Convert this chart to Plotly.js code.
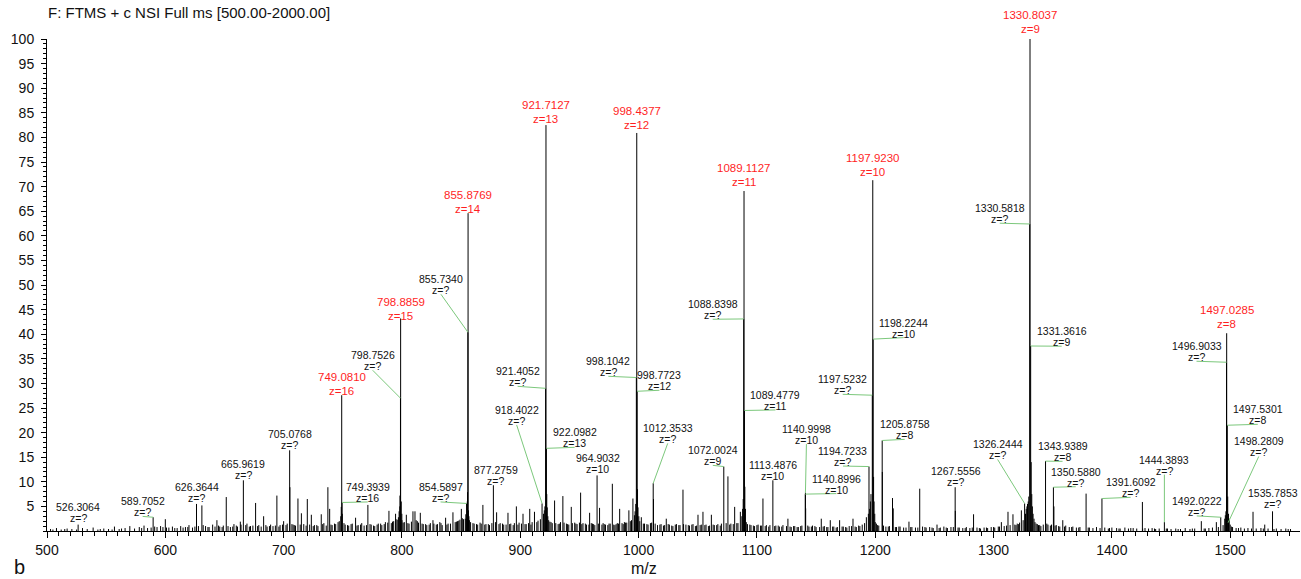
<!DOCTYPE html>
<html><head><meta charset="utf-8">
<script src="https://cdn.plot.ly/plotly-3.0.1.min.js"></script>
<style>html,body{margin:0;padding:0;background:#fff}#chart{width:1301px;height:579px}</style>
</head><body><div id="chart"></div>
<script>
// ---- labelled / prominent peaks (m/z, relative abundance %) ----
const peakMz = [526.3064,589.7052,626.3644,665.9619,705.0768,749.0810,749.3939,798.7526,798.8859,854.5897,855.7340,855.8769,877.2759,918.4022,921.4052,921.7127,922.0982,964.9032,998.1042,998.4377,998.7723,1012.3533,1072.0024,1088.8398,1089.1127,1089.4779,1113.4876,1140.8996,1140.9998,1194.7233,1197.5232,1197.9230,1198.2244,1205.8758,1267.5556,1326.2444,1330.5818,1330.8037,1331.3616,1343.9389,1350.5880,1391.6092,1444.3893,1492.0222,1496.9033,1497.0285,1497.5301,1498.2809,1535.7853];
const peakInt = [1.3,2.8,5.5,10.3,16.4,27.6,5.8,27.0,43.2,5.6,40.4,64.6,9.3,5.6,29.0,82.5,16.8,11.3,31.2,80.9,28.4,9.7,13.1,43.1,69.1,24.5,10.3,7.5,7.8,13.1,27.6,71.3,39.0,18.4,8.9,5.6,62.4,100,37.6,14.2,8.9,6.6,1.8,2.8,34.3,40.2,21.5,1.7,4.0];

// ---- other visible peaks ----
const minorMz = [600.0,630.9,643.6,651.5,663.4,676.3,683.1,694.3,700.0,705.3,712.1,715.0,720.0,723.4,731.8,737.4,738.9,748.7,760.8,771.2,789.0,794.6,798.3,803.7,809.3,811.0,815.5,826.2,836.9,843.1,850.2,855.4,868.4,880.0,889.6,896.7,902.3,908.0,912.0,929.0,936.0,943.1,951.0,958.6,967.0,977.8,984.0,991.8,995.2,1002.3,1012.6,1023.4,1037.5,1050.2,1054.4,1061.5,1075.5,1081.2,1086.0,1105.1,1126.2,1141.2,1154.4,1162.0,1169.9,1181.2,1192.5,1194.2,1206.0,1214.6,1215.2,1228.5,1237.6,1252.2,1267.7,1283.1,1306.6,1312.2,1316.4,1323.5,1351.0,1358.5,1378.2,1425.8,1475.6,1488.3,1519.3,1529.2,
  853.5,854.0,855.2,856.2,856.6,919.6,920.3,920.8,922.4,922.8,923.3,996.5,997.0,997.6,999.1,999.5,1000.2,1087.3,1087.9,1088.4,1089.8,1090.3,1195.3,1195.9,1196.4,1198.6,1199.0,1199.6,1327.0,1327.6,1328.2,1328.7,1329.3,1329.8,1331.8,1332.3,1332.8,1333.4,1334.2,1495.4,1495.9,1496.4,1497.9,1498.6,1499.2,748.3,749.6,797.6,798.2,799.4,799.9];
const minorInt = [2.4,5.2,2.2,6.9,1.9,5.7,3.0,7.2,2.0,8.9,6.6,3.6,6.5,3.3,3.4,8.9,4.5,4.9,2.7,5.3,4.1,3.5,7.2,3.3,4.0,4.0,3.7,2.2,2.7,3.8,4.5,7.9,5.3,3.8,3.7,5.0,3.5,4.5,3.9,6.2,7.1,4.9,7.8,3.7,4.7,9.6,4.5,4.2,6.6,2.8,6.5,2.5,8.4,3.3,3.9,3.3,11.1,4.9,3.9,6.6,2.5,4.6,2.5,2.2,2.2,2.5,2.8,3.5,12.0,6.7,4.6,1.9,8.6,1.3,4.1,3.4,1.8,3.9,3.4,4.2,5.0,2.2,7.6,5.9,2.0,1.8,3.9,1.3,
  2.5,3.4,6.0,4.2,3.0,3.5,4.2,5.0,7.5,4.8,3.0,3.2,4.0,5.5,8.5,4.8,3.0,3.0,4.5,6.5,9.0,4.5,4.5,6.0,7.5,11.0,6.0,3.5,3.5,4.5,5.0,5.5,6.0,7.0,14.0,7.5,5.0,3.5,2.5,2.5,3.2,4.0,7.0,3.5,2.5,3.0,3.5,4.0,5.0,6.0,3.5];

// ---- baseline noise ----
const noiseMz = [503,508,512,517,521,530,534,539,543,548,552,557,561,566,570,574,578,582,585,593,596,603,606,610,613,617,620,623,634,637,640,646,649,655,658,661,669,672,679,686,689,691,697,703,708,710,717,726,729,734,741,744,746,752,755,758,763,766,768,774,777,780,783,786,792,796,801,806,813,818,821,824,829,832,834,839,846,848,852,858,861,864,866,871,874,883,886,892,894,899,905,910,915,925,927,932,934,939,941,946,948,953,956,961,963,970,972,975,980,982,987,989,993,1005,1008,1010,1016,1019,1021,1026,1029,1032,1035,1040,1043,1046,1048,1052,1057,1059,1064,1067,1069,1078,1083,1092,1095,1098,1101,1103,1108,1110,1116,1119,1122,1129,1132,1135,1138,1144,1147,1150,1157,1159,1165,1167,1173,1176,1178,1184,1187,1189,1201,1203,1209,1212,1218,1221,1224,1231,1234,1240,1243,1246,1249,1255,1258,1261,1264,1271,1274,1277,1280,1286,1289,1292,1295,1298,1301,1304,1309,1319,1321,1336,1338,1340,1346,1348,1353,1356,1361,1364,1367,1370,1373,1381,1384,1387,1394,1397,1400,1404,1407,1411,1414,1418,1421,1428,1431,1434,1437,1440,1447,1450,1454,1458,1462,1466,1470,1479,1482,1485,1502,1505,1509,1512,1515,1522,1526,1532,1539,1543,1547,1551];
const noiseInt = [0.4,0.6,0.3,0.5,0.4,0.6,0.4,0.7,0.3,0.5,0.4,0.9,0.4,0.6,1.0,0.5,0.8,1.1,0.6,0.8,1.0,0.7,0.9,0.6,1.0,0.8,1.2,0.7,1.0,0.8,1.3,0.9,1.1,0.8,1.4,0.9,1.5,1.0,1.2,0.9,1.3,1.0,1.2,1.5,1.3,1.1,1.4,1.2,1.0,1.6,1.2,1.4,1.8,1.3,1.1,1.5,1.2,1.6,1.1,1.3,1.0,1.5,1.2,1.8,1.9,2.3,1.7,1.5,2.0,1.4,1.2,1.6,1.3,1.8,1.2,1.5,1.9,2.1,2.4,1.8,1.5,1.3,1.7,1.4,1.2,1.6,1.3,1.5,1.2,1.7,1.4,1.8,2.1,1.9,1.6,1.4,1.8,1.5,1.3,1.7,1.4,1.6,1.3,1.5,1.2,1.6,1.3,1.5,1.2,1.6,1.4,1.7,2.0,1.5,1.3,1.6,1.2,1.4,1.1,1.3,1.0,1.4,1.2,1.3,1.1,1.4,1.0,1.2,1.3,1.0,1.2,1.4,1.1,1.5,1.6,1.4,1.2,1.0,1.3,1.1,1.2,0.9,1.1,0.9,1.2,0.8,1.0,0.8,1.1,0.9,1.1,0.8,1.0,0.8,0.9,0.7,0.9,0.7,1.0,0.8,1.0,1.3,1.5,1.1,0.9,1.0,0.8,0.9,0.7,0.8,0.7,0.9,0.7,0.8,0.6,0.7,0.9,0.6,0.8,0.7,0.6,0.8,0.6,0.7,0.5,0.7,0.6,0.8,0.7,0.9,1.0,1.2,1.4,1.5,1.2,1.0,1.3,1.1,1.2,0.9,1.1,0.8,0.9,0.7,0.8,0.7,0.6,0.8,0.7,0.5,0.7,0.6,0.5,0.7,0.5,0.6,0.5,0.6,0.5,0.6,0.4,0.5,0.5,0.4,0.5,0.4,0.6,0.4,0.5,0.5,0.6,0.7,0.8,0.6,0.7,0.5,0.6,0.5,0.6,0.5,0.5,0.4,0.5,0.4];
const noise2Mz = [505,515,525,545,555,563,580,588,591,598, 601,608,615,619,625,628,632,636,642,645, 648,653,657,660,664,668,671,674,678,681, 685,688,693,696,699,702,707,709,714,719, 722,725,728,733,736,740,743,747,751,754, 757,762,765,770,773,776,779,782,785,788, 791,793,795,797,800,802,805,808,812,814, 817,820,823,827,830,833,838,841,845,847, 849,851,857,860,863,867,870,873,876,879, 882,885,888,891,895,898,901,904,907,909, 914,917,924,926,930,933,937,940,944,947, 950,952,955,958,960,962,966,969,971,974, 976,979,981,983,986,988,990,994,1001,1004, 1007,1011,1014,1018,1022,1025,1028,1031,1034,1038, 1042,1045,1049,1053,1056,1060,1063,1066,1070,1074, 1077,1080,1084,1091,1094,1097,1100,1104,1107,1111, 1115,1118,1121,1125,1128,1131,1134,1137,1143,1146, 1149,1153,1156,1160,1164,1168,1172,1175,1180,1183, 1186,1191,1200,1202,1207,1211,1217,1220,1226,1230, 1236,1242,1248,1254,1260,1266,1270,1276,1282,1288, 1294,1300,1305,1311,1314,1318,1320,1322,1325,1335, 1337,1339,1342,1345,1349,1352,1355,1360,1366,1372, 1380,1390,1398,1406,1416,1426,1436,1446,1456,1468, 1478,1490,1494,1500,1501,1507,1518,1528,1537,1549];
const noise2Int = [0.3,0.4,0.3,0.4,0.3,0.5,0.6,0.7,0.9,0.8, 0.7,0.6,0.7,0.8,0.9,1.0,1.2,0.8,0.9,1.1, 0.8,1.0,0.9,1.1,1.3,1.2,0.9,1.1,1.0,0.9, 1.2,1.0,1.1,0.9,1.3,1.2,1.4,1.2,1.3,1.1, 1.3,1.0,1.2,1.4,1.1,1.3,1.5,2.0,1.6,1.2, 1.4,1.1,1.3,1.2,1.4,1.1,1.3,1.5,1.4,1.7, 1.6,2.0,2.4,2.8,2.2,1.8,1.6,1.9,2.2,1.7, 1.5,1.4,1.3,1.5,1.4,1.6,1.3,1.5,1.8,2.0, 2.3,2.6,2.2,1.6,1.4,1.5,1.3,1.4,1.6,1.8, 1.4,1.5,1.3,1.4,1.6,1.3,1.5,1.4,1.6,1.3, 1.8,2.4,2.2,1.8,1.6,1.5,1.7,1.4,1.6,1.5, 1.7,1.4,1.5,1.3,1.6,1.4,1.5,1.3,1.4,1.2, 1.5,1.3,1.4,1.5,1.6,1.8,1.7,2.2,2.0,1.5, 1.4,1.7,1.5,1.3,1.2,1.4,1.1,1.3,1.2,1.4, 1.2,1.3,1.1,1.3,1.2,1.1,1.3,1.2,1.5,1.6, 1.3,1.4,1.6,1.8,1.3,1.1,1.2,1.1,1.0,1.2, 1.0,1.1,0.9,1.0,0.9,1.0,0.8,1.0,1.1,0.9, 1.0,0.8,0.9,0.8,0.9,0.8,0.9,0.8,1.0,0.9, 1.1,1.6,1.8,1.2,1.1,0.9,0.8,0.9,0.7,0.8, 0.7,0.8,0.7,0.6,0.7,0.8,0.7,0.6,0.7,0.6, 0.7,0.8,0.9,1.1,1.2,1.3,1.5,1.7,2.2,1.8, 1.4,1.2,1.3,1.5,1.3,1.1,1.0,0.9,0.8,0.7, 0.7,0.6,0.6,0.5,0.6,0.5,0.5,0.5,0.4,0.5, 0.5,0.8,1.2,1.3,0.9,0.6,0.5,0.5,0.4,0.4];

// ---- annotations ----
const labelMz = [526.3064,589.7052,626.3644,665.9619,705.0768,749.3939,798.7526,854.5897,855.7340,877.2759,918.4022,921.4052,922.0982,964.9032,998.1042,998.7723,1012.3533,1072.0024,1088.8398,1089.4779,1113.4876,1140.9998,1140.8996,1194.7233,1197.5232,1198.2244,1205.8758,1267.5556,1326.2444,1330.5818,1331.3616,1343.9389,1350.5880,1391.6092,1444.3893,1492.0222,1496.9033,1497.5301,1498.2809,1535.7853,
  749.0810,798.8859,855.8769,921.7127,998.4377,1089.1127,1197.9230,1330.8037,1497.0285];
const labelText = ['526.3064','589.7052','626.3644','665.9619','705.0768','749.3939','798.7526','854.5897','855.7340','877.2759','918.4022','921.4052','922.0982','964.9032','998.1042','998.7723','1012.3533','1072.0024','1088.8398','1089.4779','1113.4876','1140.9998','1140.8996','1194.7233','1197.5232','1198.2244','1205.8758','1267.5556','1326.2444','1330.5818','1331.3616','1343.9389','1350.5880','1391.6092','1444.3893','1492.0222','1496.9033','1497.5301','1498.2809','1535.7853',
  '749.0810','798.8859','855.8769','921.7127','998.4377','1089.1127','1197.9230','1330.8037','1497.0285'];
const labelZ = ['z=?','z=?','z=?','z=?','z=?','z=16','z=?','z=?','z=?','z=?','z=?','z=?','z=13','z=10','z=?','z=12','z=?','z=9','z=?','z=11','z=10','z=10','z=10','z=?','z=?','z=10','z=8','z=?','z=?','z=?','z=9','z=8','z=?','z=?','z=?','z=?','z=?','z=8','z=?','z=?',
  'z=16','z=15','z=14','z=13','z=12','z=11','z=10','z=9','z=8'];
const labelMain = [0,0,0,0,0,0,0,0,0,0,0,0,0,0,0,0,0,0,0,0,0,0,0,0,0,0,0,0,0,0,0,0,0,0,0,0,0,0,0,0, 1,1,1,1,1,1,1,1,1];

// label placement (pixel offsets of label block centre from its peak; +x right, +y down)
const labelDx = [0,-10.5,0,0,0,25.7,-27.8,-26,-27,2.5,-25.4,-28,28.2,0.6,-28,22.3,14.5,-11,-31,31,0,1,31,-26,-29.6,30.6,22.5,0.5,-27,-30,31,17,22.3,28.7,0,-24,-30,30.5,30.6,0,
  0,0,0,0,0,0,0,0,0];
const labelDy = [-12,-10.3,-11.6,-10.5,-11,-10,-37.4,-11,-47.5,-10.2,-88,-11.5,-10.5,-12,-10.7,-10.5,-49.4,-10.7,-9.2,-10,-10,-58,-10,-10,-10.4,-11,-10.6,-10.4,-53.5,-10.3,-9.3,-9.3,-10,-10.7,-57,-10.8,-10.5,-10.4,-75.7,-12.4,
  -11.4,-9.7,-11.5,-13.5,-15.4,-16.4,-15.5,-17,-16.5];

const xTickVals = [500,600,700,800,900,1000,1100,1200,1300,1400,1500];
const yTickVals = [5,10,15,20,25,30,35,40,45,50,55,60,65,70,75,80,85,90,95,100];

// ---- build stick spectrum ----
const n2 = Math.min(noise2Mz.length, noise2Int.length);
const allMz = peakMz.concat(minorMz, noiseMz, noise2Mz.slice(0, n2));
const allInt = peakInt.concat(minorInt, noiseInt, noise2Int.slice(0, n2));
const xs = [], ys = [];
allMz.forEach((m, i) => { xs.push(m, m, null); ys.push(0, allInt[i], null); });

const FONT = '"Liberation Sans", Arial, Helvetica, sans-serif';
const annotations = [], shapes = [];
labelMz.forEach((m, i) => {
  const k = peakMz.indexOf(m);
  const inten = peakInt[k];
  const main = labelMain[i] === 1;
  const s = main ? 14 : 11;
  const fs = main ? 11.5 : 10.5;
  const col = main ? '#ff1f1f' : '#111111';
  const dx = labelDx[i], dy = labelDy[i];
  annotations.push({x: m, y: inten, xref: 'x', yref: 'y', text: labelText[i], showarrow: false,
    xanchor: 'center', yanchor: 'middle', xshift: dx, yshift: -(dy - s / 2),
    font: {family: FONT, size: fs, color: col}});
  annotations.push({x: m, y: inten, xref: 'x', yref: 'y', text: labelZ[i], showarrow: false,
    xanchor: 'center', yanchor: 'middle', xshift: dx, yshift: -(dy + s / 2),
    font: {family: FONT, size: fs, color: col}});
  if (!main) {
    const sx = dx, sy = dy + s / 2 + 4;
    if (Math.hypot(sx, sy) > 5) {
      shapes.push({type: 'line', xref: 'x', yref: 'y', xsizemode: 'pixel', ysizemode: 'pixel',
        xanchor: m, yanchor: inten, x0: sx, y0: -sy, x1: 0, y1: 0,
        line: {color: '#7cc87c', width: 1}});
    }
  }
});

annotations.push({xref: 'paper', yref: 'paper', x: (644 - 47) / 1253, y: (531 - 568) / 492,
  text: 'm/z', showarrow: false, xanchor: 'center', yanchor: 'middle', font: {family: FONT, size: 16, color: '#111'}});
annotations.push({xref: 'paper', yref: 'paper', x: (19 - 47) / 1253, y: (531 - 567) / 492,
  text: 'b', showarrow: false, xanchor: 'center', yanchor: 'middle', font: {family: FONT, size: 20, color: '#111'}});

const trace = {x: xs, y: ys, type: 'scatter', mode: 'lines', line: {color: '#000', width: 1},
  hoverinfo: 'skip', connectgaps: false};

const layout = {
  width: 1301, height: 579,
  margin: {l: 47, r: 1, t: 39, b: 48},
  paper_bgcolor: '#fff', plot_bgcolor: '#fff', showlegend: false,
  font: {family: FONT, color: '#111'},
  title: {text: 'F: FTMS + c NSI Full ms [500.00-2000.00]', font: {family: FONT, size: 15, color: '#111'},
    xref: 'container', yref: 'container', x: 48 / 1301, xanchor: 'left', y: 1 - 13 / 579, yanchor: 'middle'},
  xaxis: {range: [500, 1559], tickmode: 'array', tickvals: xTickVals, ticks: 'outside', ticklen: 6, tickwidth: 1,
    tickcolor: '#000', showline: true, linecolor: '#000', linewidth: 1, showgrid: false, zeroline: false,
    tickfont: {family: FONT, size: 14, color: '#111'},
    minor: {tick0: 500, dtick: 10, ticks: 'outside', ticklen: 4, tickcolor: '#000', showgrid: false}},
  yaxis: {range: [0, 100], tickmode: 'array', tickvals: yTickVals, ticks: 'outside', ticklen: 5, tickwidth: 1,
    tickcolor: '#000', showline: true, linecolor: '#000', linewidth: 1, showgrid: false, zeroline: false,
    tickfont: {family: FONT, size: 14, color: '#111'}, ticklabelstandoff: 4,
    minor: {tick0: 0, dtick: 1, ticks: 'outside', ticklen: 3, tickcolor: '#000', showgrid: false}},
  annotations: annotations, shapes: shapes
};

Plotly.newPlot('chart', [trace], layout, {displayModeBar: false, staticPlot: true});
</script>
</body></html>
